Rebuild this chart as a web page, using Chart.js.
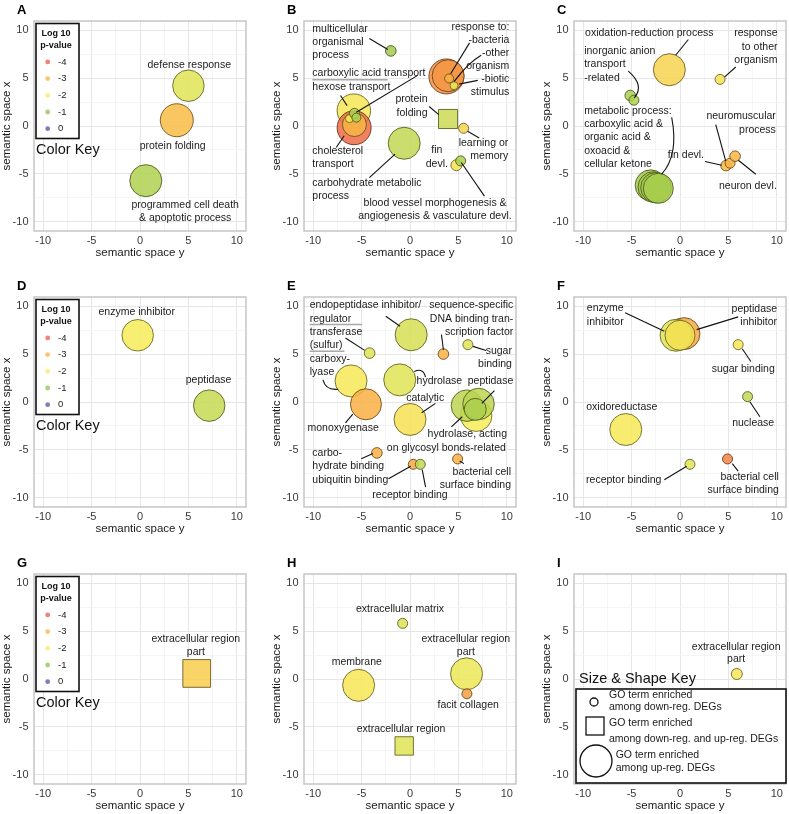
<!DOCTYPE html>
<html>
<head>
<meta charset="utf-8">
<script src="https://cdn.jsdelivr.net/npm/chart.js@4.4.1/dist/chart.umd.min.js"></script>
<style>
  body { margin: 0; background: #fff; width: 789px; height: 814px; overflow: hidden; position: relative; }
  canvas { position: absolute; }
</style>
</head>
<body>
<script>
var FONT = '"Liberation Sans", Arial, Helvetica, sans-serif';
var R_UNIT = 5;
var tickVals = [-10, -7.5, -5, -2.5, 0, 2.5, 5, 7.5, 10];
var keyLevels = [-4, -3, -2, -1, 0];
var keyColors = ["#ea5a45", "#f9b043", "#f6ec58", "#8dc24b", "#5551a6"];

// A
var aTerm = ["defense response", "protein folding", "programmed cell death & apoptotic process"];
var aSpaceY = [5.0, 3.8, 0.6];
var aSpaceX = [4.2, 0.6, -5.7];
var aLogP = [-1.8, -2.8, -1.35];
var aSize = [3.15, 3.3, 3.2];
var aShape = ["circle", "circle", "circle"];

// B
var bTerm = ["multicellular organismal process", "response to bacterium", "response to other organism",
  "response to external biotic stimulus", "response to biotic stimulus", "hexose transport",
  "cholesterol transport", "sterol transport", "monosaccharide transport", "carboxylic acid transport",
  "organic acid transport", "protein folding", "learning or memory", "carbohydrate metabolic process",
  "fin devl.", "blood vessel morphogenesis"];
var bSpaceY = [-1.98, 3.76, 3.94, 4.04, 4.55, -5.8, -5.77, -5.74, -6.26, -5.74, -5.54, 3.93, 5.54, -0.6, 4.79, 5.23];
var bSpaceX = [7.83, 5.17, 5.24, 4.96, 4.2, 1.6, -0.18, 0.15, 0.77, 1.32, 0.87, 0.73, -0.24, -1.8, -4.09, -3.64];
var bLogP = [-1.2, -3.4, -3.3, -3.0, -1.9, -2.1, -3.8, -2.9, -2.1, -1.4, -1.3, -1.6, -2.4, -1.5, -2.2, -1.3];
var bSize = [1.06, 3.5, 3.2, 0.9, 0.8, 3.35, 3.4, 2.4, 0.8, 1.0, 0.9, 2.7, 1.0, 3.2, 1.1, 1.0];
var bShape = ["circle", "circle", "circle", "circle", "circle", "circle", "circle", "circle", "circle",
  "circle", "circle", "rect", "circle", "circle", "circle", "circle"];

// C
var cTerm = ["oxidation-reduction process", "response to other organism", "inorganic anion transport",
  "anion transport", "carboxylic acid metabolic process", "organic acid metabolic process",
  "oxoacid metabolic process", "cellular ketone metabolic process", "fin devl.", "neuromuscular process",
  "neuron devl."];
var cSpaceY = [-1.1, 4.14, -5.14, -4.76, -3.03, -2.76, -2.48, -2.24, 4.76, 5.17, 5.69];
var cSpaceX = [5.87, 4.86, 3.18, 2.69, -6.19, -6.36, -6.43, -6.5, -4.13, -3.88, -3.15];
var cLogP = [-2.4, -2.2, -1.3, -1.3, -1.25, -1.25, -1.25, -1.25, -2.9, -2.9, -2.9];
var cSize = [3.2, 1.0, 1.06, 1.0, 3.1, 3.05, 3.05, 3.0, 1.06, 1.0, 1.06];
var cShape = ["circle", "circle", "circle", "circle", "circle", "circle", "circle", "circle", "circle", "circle", "circle"];

// D
var dTerm = ["enzyme inhibitor", "peptidase"];
var dSpaceY = [-0.24, 7.15];
var dSpaceX = [6.96, -0.38];
var dLogP = [-2.0, -1.55];
var dSize = [3.15, 3.15];
var dShape = ["circle", "circle"];

// E
var eTerm = ["endopeptidase inhibitor/regulator", "transferase (sulfur)", "sequence-specific DNA binding transcription factor",
  "sugar binding", "carboxy-lyase", "hydrolase", "monoxygenase", "catalytic",
  "hydrolase, acting on glycosyl bonds", "peptidase", "endopeptidase", "hydrolyzing O-glycosyl compounds",
  "carbohydrate binding", "ubiquitin binding", "receptor binding", "bacterial cell surface binding"];
var eSpaceY = [0.12, -4.17, 3.45, 5.98, -6.09, -1.06, -4.55, 0.0, 6.84, 5.88, 7.08, 6.74, -3.42, 0.34, 1.06, 4.92];
var eSpaceX = [7.01, 5.1, 5.0, 5.98, 2.2, 2.31, -0.24, -1.82, -1.43, -0.38, -0.21, -0.77, -5.31, -6.5, -6.5, -5.94];
var eLogP = [-1.7, -1.8, -3.0, -1.8, -2.05, -1.8, -3.0, -2.2, -2.0, -1.45, -1.45, -1.3, -3.0, -3.1, -1.5, -3.0];
var eSize = [3.2, 1.06, 1.06, 1.0, 3.2, 3.2, 3.1, 3.2, 3.15, 3.15, 3.15, 2.2, 1.06, 1.0, 1.0, 1.0];
var eShape = ["circle", "circle", "circle", "circle", "circle", "circle", "circle", "circle",
  "circle", "circle", "circle", "circle", "circle", "circle", "circle", "circle"];

// F
var fTerm = ["peptidase inhibitor", "enzyme inhibitor", "endopeptidase inhibitor", "sugar binding", "nuclease",
  "oxidoreductase", "receptor binding", "bacterial cell surface binding"];
var fSpaceY = [0.41, -0.41, 0.0, 6.01, 6.98, -5.6, 1.03, 4.91];
var fSpaceX = [7.13, 6.96, 6.96, 5.98, 0.56, -2.87, -6.5, -5.94];
var fLogP = [-3.1, -1.8, -2.15, -2.1, -1.5, -2.05, -1.8, -3.5];
var fSize = [3.2, 3.2, 3.0, 1.0, 1.0, 3.2, 1.0, 1.0];
var fShape = ["circle", "circle", "circle", "circle", "circle", "circle", "circle", "circle"];

// G
var gTerm = ["extracellular region part"];
var gSpaceY = [5.86];
var gSpaceX = [0.58];
var gLogP = [-2.5];
var gSize = [3.92];
var gShape = ["rect"];

// H
var hTerm = ["extracellular matrix", "membrane", "extracellular region part", "facit collagen", "extracellular region"];
var hSpaceY = [-0.76, -5.31, 5.84, 5.88, -0.6];
var hSpaceX = [5.8, -0.66, 0.54, -1.54, -6.98];
var hLogP = [-1.75, -2.1, -1.9, -3.2, -1.8];
var hSize = [1.0, 3.2, 3.2, 1.0, 2.6];
var hShape = ["circle", "circle", "circle", "circle", "rect"];

// I
var iTerm = ["extracellular region part"];
var iSpaceY = [5.87];
var iSpaceX = [0.52];
var iLogP = [-2.1];
var iSize = [1.1];
var iShape = ["circle"];

// labels: [text, semantic y, semantic x, align]; leader lines: [y1, x1, (cy, cx,) y2, x2]
var aNotes = [["defense response", 5.09, 6.4, "center"], ["protein folding", 3.37, -2.13, "center"],
  ["programmed cell death", 4.67, -8.25, "center"], ["& apoptotic process", 4.67, -9.62, "center"]];

var bNotes = [["multicellular", -10.09, 10.1, "left"], ["organismal", -10.09, 8.71, "left"], ["process", -10.09, 7.38, "left"],
  ["response to:", 10.26, 10.35, "right"], ["-bacteria", 10.26, 8.95, "right"], ["-other", 10.26, 7.55, "right"],
  ["organism", 10.26, 6.22, "right"], ["-biotic", 10.26, 4.86, "right"], ["stimulus", 10.26, 3.53, "right"],
  ["carboxylic acid transport", -10.09, 5.56, "left"], ["hexose transport", -10.09, 4.06, "left"],
  ["protein", 1.81, 2.76, "right"], ["folding", 1.81, 1.36, "right"],
  ["learning or", 10.15, -1.78, "right"], ["memory", 10.15, -3.11, "right"],
  ["fin", 2.77, -2.52, "center"], ["devl.", 2.77, -3.99, "center"],
  ["cholesterol", -10.09, -2.66, "left"], ["transport", -10.09, -3.99, "left"],
  ["carbohydrate metabolic", -10.09, -5.98, "left"], ["process", -10.09, -7.31, "left"],
  ["blood vessel morphogenesis &", 9.98, -8.08, "right"], ["angiogenesis & vasculature devl.", 10.5, -9.41, "right"]];
var bLines = [[-4.2, 9.13, -2.29, 7.97], [6.15, 8.67, 4.2, 5.45], [7.35, 7.38, 6.0, 6.6, 4.55, 4.62],
  [7.0, 4.76, 5.07, 4.37], [0.79, 5.28, -5.54, 1.43], [-7.18, 3.18, -6.5, 2.13], [1.98, 2.03, 2.97, 1.19],
  [5.95, -0.55, 7.15, -1.25], [-7.62, -2.24, -6.8, -1.01], [-4.2, -5.38, -1.54, -2.94], [7.69, -7.31, 5.3, -3.81]];
var bRules = [[-10.09, 4.83, -2.29, 4.83]];

var cNotes = [["oxidation-reduction process", -3.17, 9.65, "center"],
  ["response", 10.07, 9.65, "right"], ["to other", 10.07, 8.25, "right"], ["organism", 10.07, 6.85, "right"],
  ["inorganic anion", -9.9, 7.83, "left"], ["transport", -9.9, 6.43, "left"], ["-related", -9.9, 5.03, "left"],
  ["metabolic process:", -9.9, 1.54, "left"], ["carboxylic acid &", -9.9, 0.21, "left"],
  ["organic acid &", -9.9, -1.19, "left"], ["oxoacid &", -9.9, -2.59, "left"], ["cellular ketone", -9.9, -3.99, "left"],
  ["neuromuscular", 9.9, 1.01, "right"], ["process", 9.9, -0.38, "right"],
  ["fin devl.", 2.48, -3.01, "right"], ["neuron devl.", 10.0, -6.26, "right"]];
var cLines = [[0.86, 9.02, -0.45, 7.38], [5.76, 6.15, 4.59, 5.1], [-5.34, 5.73, -3.62, 4.23, -4.72, 2.94],
  [-0.86, 0.91, -0.1, -3.0, -1.9, -5.03], [3.69, 0.14, 4.72, -3.64], [2.59, -3.71, 4.31, -4.09],
  [7.83, -5.03, 6.03, -3.57]];

var dNotes = [["enzyme inhibitor", -0.34, 9.37, "center"], ["peptidase", 7.08, 2.24, "center"]];

var eNotes = [["endopeptidase inhibitor/", -10.36, 10.07, "left"], ["regulator", -10.36, 8.67, "left"],
  ["transferase", -10.36, 7.31, "left"], ["(sulfur)", -10.36, 5.98, "left"],
  ["carboxy-", -10.36, 4.51, "left"], ["lyase", -10.36, 3.11, "left"],
  ["sequence-specific", 10.67, 10.07, "right"], ["DNA binding tran-", 10.67, 8.67, "right"],
  ["scription factor", 10.67, 7.31, "right"], ["sugar", 10.53, 5.28, "right"], ["binding", 10.53, 3.95, "right"],
  ["hydrolase", 0.68, 2.13, "left"], ["peptidase", 10.67, 2.2, "right"], ["catalytic", 1.57, 0.38, "center"],
  ["monoxygenase", -6.91, -2.76, "center"], ["hydrolase, acting", 10.02, -3.39, "right"],
  ["on glycosyl bonds-related", 9.91, -4.79, "right"], ["carbo-", -10.09, -5.31, "left"],
  ["hydrate binding", -10.09, -6.71, "left"], ["ubiquitin binding", -10.09, -8.11, "left"],
  ["bacterial cell", 10.43, -7.31, "right"], ["surface binding", 10.43, -8.71, "right"],
  ["receptor binding", 0, -9.76, "center"]];
var eLines = [[-2.5, 8.95, -1.03, 7.9], [-6.67, 6.68, -4.68, 5.38], [-8.99, 2.31, -8.72, 1.19, -7.42, 1.33],
  [3.25, 7.03, 3.45, 5.45], [7.86, 5.38, 6.5, 5.8], [0.44, 3.18, 1.4, 3.6, 1.6, 2.59], [8.72, 1.19, 7.42, -0.14],
  [2.63, -0.14, 1.2, -1.12], [-6.67, -2.17, -5.91, -1.26], [5.4, -1.54, 4.27, -2.59], [-5.03, -5.91, -3.83, -5.38],
  [-2.22, -8.0, 0.07, -6.71], [5.57, -6.43, 5.13, -6.15], [1.61, -8.88, 1.26, -7.06]];
var eRules = [[-10.36, 8.08, -4.96, 8.08], [-10.36, 5.28, -6.77, 5.28]];

var fNotes = [["enzyme", -9.62, 9.76, "left"], ["inhibitor", -9.62, 8.36, "left"],
  ["peptidase", 10.03, 9.65, "right"], ["inhibitor", 10.03, 8.36, "right"],
  ["sugar binding", 9.79, 3.46, "right"], ["oxidoreductase", -6.01, -0.49, "center"],
  ["nuclease", 9.73, -2.2, "right"], ["receptor binding", -5.81, -8.18, "center"],
  ["bacterial cell", 10.21, -7.83, "right"], ["surface binding", 10.21, -9.23, "right"]];
var fLines = [[-5.67, 9.3, -1.62, 7.38], [6.01, 8.88, 1.72, 7.55], [7.32, 4.23, 6.43, 5.56],
  [8.25, -1.54, 7.22, 0.03], [-1.62, -8.11, 0.69, -6.71], [6.01, -7.2, 5.4, -6.43]];

var gNotes = [["extracellular region", 5.77, 4.2, "center"], ["part", 5.77, 2.8, "center"]];
var hNotes = [["extracellular matrix", -1.03, 7.27, "center"], ["extracellular region", 5.77, 4.2, "center"],
  ["part", 5.77, 2.8, "center"], ["membrane", -5.5, 1.75, "center"], ["facit collagen", 6.01, -2.76, "center"],
  ["extracellular region", -0.93, -5.21, "center"]];
var iNotes = [["extracellular region", 5.8, 3.36, "center"], ["part", 5.8, 2.03, "center"]];

var panels = [
  { letter: "A", col: 0, row: 0, sy: aSpaceY, sx: aSpaceX, logp: aLogP, size: aSize, shape: aShape, notes: aNotes, key: "color" },
  { letter: "B", col: 1, row: 0, sy: bSpaceY, sx: bSpaceX, logp: bLogP, size: bSize, shape: bShape, notes: bNotes, lines: bLines, rules: bRules },
  { letter: "C", col: 2, row: 0, sy: cSpaceY, sx: cSpaceX, logp: cLogP, size: cSize, shape: cShape, notes: cNotes, lines: cLines },
  { letter: "D", col: 0, row: 1, sy: dSpaceY, sx: dSpaceX, logp: dLogP, size: dSize, shape: dShape, notes: dNotes, key: "color" },
  { letter: "E", col: 1, row: 1, sy: eSpaceY, sx: eSpaceX, logp: eLogP, size: eSize, shape: eShape, notes: eNotes, lines: eLines, rules: eRules },
  { letter: "F", col: 2, row: 1, sy: fSpaceY, sx: fSpaceX, logp: fLogP, size: fSize, shape: fShape, notes: fNotes, lines: fLines },
  { letter: "G", col: 0, row: 2, sy: gSpaceY, sx: gSpaceX, logp: gLogP, size: gSize, shape: gShape, notes: gNotes, key: "color" },
  { letter: "H", col: 1, row: 2, sy: hSpaceY, sx: hSpaceX, logp: hLogP, size: hSize, shape: hShape, notes: hNotes },
  { letter: "I", col: 2, row: 2, sy: iSpaceY, sx: iSpaceX, logp: iLogP, size: iSize, shape: iShape, notes: iNotes, key: "size" }
];

var colLeft = [0, 270, 540];
var rowTop = [0, 276, 553];
var CW = 249, CH = 264;

function hexToRGB(hex) {
  return [parseInt(hex.slice(1, 3), 16), parseInt(hex.slice(3, 5), 16), parseInt(hex.slice(5, 7), 16)];
}

// colour for a log10 p-value, interpolated through the colour key
function pColor(v, alpha, shade) {
  var t = Math.min(4, Math.max(0, v + 4));
  var i = Math.min(3, Math.floor(t)), f = t - i;
  var c0 = hexToRGB(keyColors[i]), c1 = hexToRGB(keyColors[i + 1]);
  var k = shade || 1;
  var rgb = [0, 1, 2].map(function (j) { return Math.round((c0[j] + (c1[j] - c0[j]) * f) * k); });
  return "rgba(" + rgb.join(", ") + ", " + alpha + ")";
}

function drawColorKey(ctx, ca) {
  var bx = ca.left + 2, by = ca.top + 2.5, bw = 43, bh = 115;
  ctx.fillStyle = "#fff";
  ctx.fillRect(bx, by, bw, bh);
  ctx.strokeStyle = "#111";
  ctx.lineWidth = 1.6;
  ctx.strokeRect(bx, by, bw, bh);
  ctx.fillStyle = "#111";
  ctx.font = "bold 9px " + FONT;
  ctx.textAlign = "center";
  ctx.textBaseline = "middle";
  ctx.fillText("Log 10", bx + 20, by + 10);
  ctx.fillText("p-value", bx + 20, by + 21.7);
  keyLevels.forEach(function (v, i) {
    var cy = by + 38.4 + i * 16.7;
    ctx.beginPath();
    ctx.arc(bx + 11.7, cy, 2.4, 0, 2 * Math.PI);
    ctx.fillStyle = pColor(v, 0.75);
    ctx.fill();
    ctx.fillStyle = "#222";
    ctx.font = "9.5px " + FONT;
    ctx.textAlign = "left";
    ctx.fillText(String(v), bx + 22, cy);
  });
  ctx.font = "14.5px " + FONT;
  ctx.fillStyle = "#111";
  ctx.textAlign = "left";
  ctx.fillText("Color Key", bx, by + 126.7);
}

function drawSizeKey(ctx, ca) {
  ctx.font = "14.5px " + FONT;
  ctx.fillStyle = "#111";
  ctx.textAlign = "left";
  ctx.textBaseline = "middle";
  ctx.fillText("Size & Shape Key", ca.left + 5, ca.top + 104.7);
  var bx = ca.left + 2, by = ca.top + 115, bw = ca.right - bx, bh = ca.bottom - 1 - by;
  ctx.fillStyle = "#fff";
  ctx.fillRect(bx, by, bw, bh);
  ctx.strokeStyle = "#111";
  ctx.lineWidth = 1.6;
  ctx.strokeRect(bx, by, bw, bh);
  ctx.lineWidth = 1.3;
  ctx.beginPath(); ctx.arc(ca.left + 20, ca.top + 128, 4, 0, 2 * Math.PI); ctx.stroke();
  ctx.strokeRect(ca.left + 12, ca.top + 143, 18, 18);
  ctx.beginPath(); ctx.arc(ca.left + 22, ca.top + 187, 16, 0, 2 * Math.PI); ctx.stroke();
  ctx.fillStyle = "#1a1a1a";
  ctx.font = "10.5px " + FONT;
  ctx.fillText("GO term enriched", ca.left + 35, ca.top + 121);
  ctx.fillText("among down-reg. DEGs", ca.left + 35, ca.top + 132.7);
  ctx.fillText("GO term enriched", ca.left + 35, ca.top + 149.3);
  ctx.fillText("among down-reg. and up-reg. DEGs", ca.left + 35, ca.top + 165.3);
  ctx.fillText("GO term enriched", ca.left + 41.7, ca.top + 181);
  ctx.fillText("among up-reg. DEGs", ca.left + 41.7, ca.top + 194.3);
}

function overlay(p) {
  return {
    id: "overlay" + p.letter,
    afterDatasetsDraw: function (chart) {
      var ctx = chart.ctx, xs = chart.scales.x, ys = chart.scales.y;
      var px = function (v) { return xs.getPixelForValue(v); };
      var py = function (v) { return ys.getPixelForValue(v); };
      ctx.save();
      ctx.strokeStyle = "#a8a8a8";
      ctx.lineWidth = 1.5;
      (p.rules || []).forEach(function (r) {
        ctx.beginPath();
        ctx.moveTo(px(r[0]), py(r[1]));
        ctx.lineTo(px(r[2]), py(r[3]));
        ctx.stroke();
      });
      ctx.strokeStyle = "#111";
      ctx.lineWidth = 1.1;
      (p.lines || []).forEach(function (l) {
        ctx.beginPath();
        ctx.moveTo(px(l[0]), py(l[1]));
        if (l.length === 6) {
          ctx.quadraticCurveTo(px(l[2]), py(l[3]), px(l[4]), py(l[5]));
        } else {
          ctx.lineTo(px(l[2]), py(l[3]));
        }
        ctx.stroke();
      });
      ctx.font = "10.5px " + FONT;
      ctx.fillStyle = "#1a1a1a";
      ctx.textBaseline = "middle";
      p.notes.forEach(function (n) {
        ctx.textAlign = n[3];
        ctx.fillText(n[0], px(n[1]), py(n[2]));
      });
      ctx.restore();
    },
    afterDraw: function (chart) {
      var ctx = chart.ctx, ca = chart.chartArea;
      ctx.save();
      ctx.strokeStyle = "#bdbdbd";
      ctx.lineWidth = 1.3;
      ctx.strokeRect(ca.left, ca.top, ca.right - ca.left, ca.bottom - ca.top);
      ctx.fillStyle = "#000";
      ctx.font = "bold 13px " + FONT;
      ctx.textAlign = "left";
      ctx.textBaseline = "alphabetic";
      ctx.fillText(p.letter, ca.left - 17, ca.top - 7);
      if (p.key === "color") drawColorKey(ctx, ca);
      if (p.key === "size") drawSizeKey(ctx, ca);
      ctx.restore();
    }
  };
}

function axis(which, title) {
  return {
    type: "linear",
    min: -10.95,
    max: 10.95,
    afterBuildTicks: function (s) {
      s.ticks = tickVals.map(function (v) { return { value: v }; });
    },
    afterFit: function (s) {
      s.paddingLeft = 0; s.paddingRight = 0; s.paddingTop = 0; s.paddingBottom = 0;
      if (which === "x") s.height = 33; else s.width = 34;
    },
    ticks: {
      autoSkip: false,
      maxRotation: 0,
      padding: which === "x" ? 3.5 : 5.5,
      color: "#3a3a3a",
      font: { family: FONT, size: 11 },
      callback: function (v) { return v % 5 === 0 ? String(v) : ""; }
    },
    grid: {
      drawTicks: false,
      color: function (c) { return c.tick && c.tick.value % 5 === 0 ? "#e6e6e6" : "#f3f3f3"; },
      lineWidth: function (c) { return c.tick && c.tick.value % 5 === 0 ? 1 : 0.8; }
    },
    border: { display: false },
    title: {
      display: true,
      text: title,
      color: "#1a1a1a",
      font: { family: FONT, size: 11.5 },
      padding: { top: 0, bottom: 4 }
    }
  };
}

panels.forEach(function (p) {
  var cv = document.createElement("canvas");
  cv.width = CW;
  cv.height = CH;
  cv.style.left = colLeft[p.col] + "px";
  cv.style.top = rowTop[p.row] + "px";
  document.body.appendChild(cv);

  new Chart(cv, {
    type: "bubble",
    data: {
      datasets: [{
        data: p.sy.map(function (v, i) { return { x: v, y: p.sx[i], r: p.size[i] * R_UNIT }; }),
        backgroundColor: function (c) { return c.dataIndex != null ? pColor(p.logp[c.dataIndex], 0.85) : "#ccc"; },
        borderColor: function (c) { return c.dataIndex != null ? pColor(p.logp[c.dataIndex], 0.9, 0.45) : "#666"; },
        borderWidth: 1,
        pointStyle: function (c) { return c.dataIndex != null ? p.shape[c.dataIndex] : "circle"; }
      }]
    },
    options: {
      responsive: false,
      animation: false,
      events: [],
      layout: { autoPadding: false, padding: { top: 21, right: 3, bottom: 0, left: 0 } },
      plugins: { legend: { display: false }, tooltip: { enabled: false } },
      scales: {
        x: axis("x", "semantic space y"),
        y: axis("y", "semantic space x")
      }
    },
    plugins: [overlay(p)]
  });
});
</script>
</body>
</html>
